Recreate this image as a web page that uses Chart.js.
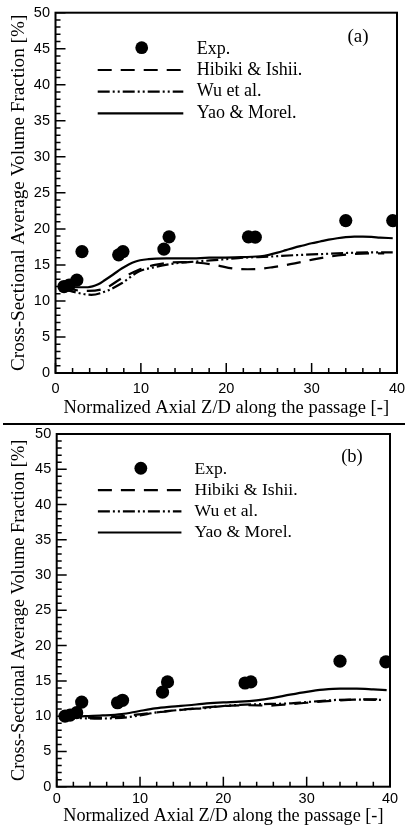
<!DOCTYPE html>
<html><head><meta charset="utf-8">
<script src="https://cdn.jsdelivr.net/npm/chart.js@4.4.1/dist/chart.umd.min.js"></script>
<style>
html,body{margin:0;padding:0;background:#fff;width:405px;height:831px;overflow:hidden;}
#wa{position:absolute;left:0;top:0;width:405px;height:422px;}
#wb{position:absolute;left:0;top:425px;width:405px;height:406px;}
#sep{position:absolute;left:3px;top:423px;width:402px;height:2px;background:#000;}
</style></head><body>
<div id="wa"><canvas id="ca"></canvas></div>
<div id="sep"></div>
<div id="wb"><canvas id="cb"></canvas></div>
<script>
// ---- labels ----
const seriesNames = ['Exp.', 'Hibiki & Ishii.', 'Wu et al.', 'Yao & Morel.'];
const xTitle = 'Normalized Axial Z/D along the passage [-]';
const yTitle = 'Cross-Sectional Average Volume Fraction [%]';
const xTickValues = [0, 10, 20, 30, 40];
const yTickValues = [0, 5, 10, 15, 20, 25, 30, 35, 40, 45, 50];

// ---- panel (a) ----
const expZ_a = [1.0, 1.6, 2.5, 3.1, 7.4, 7.9, 12.7, 13.3, 22.6, 23.4, 34.0, 39.5];
const expV_a = [12.0, 12.2, 12.9, 16.85, 16.4, 16.85, 17.2, 18.9, 18.9, 18.85, 21.15, 21.15];
const hibZ_a = [1, 2, 3, 3.8, 5.8, 7.75, 9.7, 11.65, 14.8, 16.7, 18.7, 20.8, 22.5, 24, 25.5, 27.5, 30.4, 33.7, 36.8, 38.5];
const hibV_a = [11.8, 11.6, 11.4, 11.4, 11.75, 13.15, 14.3, 15.0, 15.4, 15.3, 15.0, 14.5, 14.4, 14.45, 14.7, 15.1, 15.8, 16.4, 16.6, 16.6];
const wuZ_a = [1, 2, 3.1, 4.2, 5.8, 7.75, 9.7, 11.65, 13.6, 16.3, 19.5, 22, 25, 28, 31, 34, 37, 39.5];
const wuV_a = [11.6, 11.3, 11.0, 10.85, 11.3, 12.45, 14.05, 14.7, 15.15, 15.45, 15.75, 16.0, 16.15, 16.35, 16.5, 16.65, 16.75, 16.75];
const yaoZ_a = [1, 2.3, 3.8, 5, 5.8, 6.8, 7.75, 9.3, 10.9, 13, 15.5, 18, 21, 24, 25, 26, 27, 28, 29, 30, 31, 32, 33, 34, 35, 36, 37, 38, 39.5];
const yaoV_a = [12.0, 11.9, 11.9, 12.3, 12.9, 13.7, 14.5, 15.45, 15.8, 15.9, 15.9, 16.0, 16.05, 16.2, 16.4, 16.7, 17.05, 17.4, 17.7, 18.0, 18.25, 18.5, 18.7, 18.85, 18.92, 18.92, 18.88, 18.8, 18.7];

// ---- panel (b) ----
const expZ_b = [1.0, 1.6, 2.4, 3.0, 7.3, 7.9, 12.7, 13.3, 22.6, 23.3, 34.0, 39.5];
const expV_b = [10.0, 10.15, 10.5, 12.0, 11.9, 12.25, 13.4, 14.85, 14.7, 14.85, 17.8, 17.7];
const hibZ_b = [1, 2, 3.5, 5, 7, 9, 11, 13, 15, 17, 19, 21, 23, 25.6, 28, 30, 32, 35, 38, 39];
const hibV_b = [10.0, 9.9, 9.8, 9.75, 9.9, 10.15, 10.4, 10.65, 10.9, 11.15, 11.35, 11.5, 11.55, 11.5, 11.7, 11.9, 12.1, 12.3, 12.4, 12.4];
const wuZ_b = [1, 2, 3.5, 5, 6.5, 8.5, 10, 11.8, 14, 16, 17.8, 19.6, 22, 24.5, 27.6, 30, 33.6, 36, 39.2];
const wuV_b = [10.0, 9.8, 9.7, 9.65, 9.7, 9.85, 10.1, 10.5, 10.8, 11.0, 11.15, 11.4, 11.6, 11.7, 11.8, 12.0, 12.3, 12.35, 12.3];
const yaoZ_b = [1, 2, 3.4, 5.5, 7.8, 9.8, 11.8, 13.8, 15.8, 18, 20, 22, 24, 26, 28, 30, 32, 34, 36, 38, 39.6];
const yaoV_b = [10.0, 9.95, 10.0, 10.1, 10.3, 10.7, 11.1, 11.35, 11.55, 11.8, 11.95, 12.05, 12.25, 12.6, 13.05, 13.45, 13.75, 13.9, 13.9, 13.8, 13.7];

const toPts = (zs, vs) => zs.map((z, i) => ({x: z, y: vs[i]}));

const framePlugin = {
  id: 'frameTicks',
  afterDatasetsDraw(chart) {
    const {ctx, chartArea: a, scales: {x, y}} = chart;
    ctx.save();
    ctx.strokeStyle = '#000';
    ctx.lineWidth = 1.5;
    ctx.beginPath();
    for (let v = 0; v <= 50; v += 1) {
      const py = y.getPixelForValue(v);
      const len = v % 5 === 0 ? 10 : 5;
      ctx.moveTo(a.left, py); ctx.lineTo(a.left + len, py);
    }
    for (let v = 0; v <= 40; v += 2) {
      const px = x.getPixelForValue(v);
      const len = v % 10 === 0 ? 10 : 5;
      ctx.moveTo(px, a.bottom); ctx.lineTo(px, a.bottom - len);
    }
    ctx.stroke();
    ctx.lineWidth = 2;
    ctx.strokeRect(a.left, a.top, a.right - a.left, a.bottom - a.top);
    ctx.restore();
  }
};

const legendPlugin = {
  id: 'innerLegend',
  afterDraw(chart) {
    const o = chart.options.plugins.innerLegend;
    const {ctx, chartArea: a} = chart;
    const k = (a.right - a.left) / 341.5;
    const ky = (a.bottom - a.top) / 360.3;
    ctx.save();
    ctx.fillStyle = '#000';
    ctx.strokeStyle = '#000';
    const rows = [36.3, 57.3, 79, 100.6];
    const ds = chart.data.datasets;
    ctx.font = (18 * k).toFixed(1) + 'px "Liberation Serif"';
    ctx.textBaseline = 'middle';
    ctx.textAlign = 'left';
    ds.forEach((d, i) => {
      const cy = a.top + rows[i] * ky;
      if (i === 0) {
        ctx.beginPath();
        ctx.arc(a.left + 86.2 * k, a.top + 35 * ky, 6.4, 0, Math.PI * 2);
        ctx.fill();
      } else {
        ctx.lineWidth = 2.2;
        ctx.setLineDash(d.borderDash || []);
        ctx.beginPath();
        ctx.moveTo(a.left + 42.2 * k, cy);
        ctx.lineTo(a.left + 127.8 * k, cy);
        ctx.stroke();
        ctx.setLineDash([]);
      }
      ctx.fillText(d.label, a.left + 141.2 * k, cy);
    });
    ctx.font = (19 * k).toFixed(1) + 'px "Liberation Serif"';
    ctx.textAlign = 'center';
    ctx.fillText(o.panel, a.left + 302.5 * k, a.top + 24 * ky);
    ctx.restore();
  }
};

function build(id, p) {
  const lineDs = (label, pts, dash) => ({
    label, data: pts, showLine: true, borderColor: '#000', borderWidth: 2.2,
    borderDash: dash, pointRadius: 0, pointHoverRadius: 0,
    cubicInterpolationMode: 'monotone', fill: false
  });
  return new Chart(document.getElementById(id), {
    type: 'scatter',
    data: {
      datasets: [
        {label: seriesNames[0], data: toPts(p.expZ, p.expV), showLine: false,
         pointRadius: 6.6, pointBackgroundColor: '#000', pointBorderColor: '#000', pointBorderWidth: 0},
        lineDs(seriesNames[1], toPts(p.hibZ, p.hibV), [14, 9]),
        lineDs(seriesNames[2], toPts(p.wuZ, p.wuV), [12, 3, 2, 3, 2, 3]),
        lineDs(seriesNames[3], toPts(p.yaoZ, p.yaoV), [])
      ]
    },
    options: {
      responsive: true, maintainAspectRatio: false, animation: false,
      layout: {padding: {left: 0, right: p.padR, top: p.padT, bottom: 0}},
      plugins: {legend: {display: false}, tooltip: {enabled: false}, innerLegend: {panel: p.panel}},
      scales: {
        x: {
          type: 'linear', min: 0, max: 40,
          afterBuildTicks: s => { s.ticks = xTickValues.map(v => ({value: v})); },
          ticks: {font: {family: 'Liberation Sans', size: p.tickFont}, color: '#000', padding: p.xTickPad, maxRotation: 0, autoSkip: false},
          grid: {display: false, drawTicks: false}, border: {display: false},
          title: {display: true, text: xTitle, color: '#000',
                  font: {family: 'Liberation Serif', size: p.xTitleFont}, padding: {top: 0, bottom: p.xTitlePad}},
          afterFit: s => { s.height = p.xH; s.paddingLeft = 0; s.paddingRight = 0; }
        },
        y: {
          type: 'linear', min: 0, max: 50,
          afterBuildTicks: s => { s.ticks = yTickValues.map(v => ({value: v})); },
          ticks: {font: {family: 'Liberation Sans', size: p.tickFont}, color: '#000', padding: 5.5, autoSkip: false},
          grid: {display: false, drawTicks: false}, border: {display: false},
          title: {display: true, text: yTitle, color: '#000',
                  font: {family: 'Liberation Serif', size: p.yTitleFont}, padding: {top: p.yTitlePad, bottom: 0}},
          afterFit: s => { s.width = p.yW; s.paddingTop = 0; s.paddingBottom = 0; }
        }
      }
    },
    plugins: [framePlugin, legendPlugin]
  });
}

build('ca', {expZ: expZ_a, expV: expV_a, hibZ: hibZ_a, hibV: hibV_a, wuZ: wuZ_a, wuV: wuV_a, yaoZ: yaoZ_a, yaoV: yaoV_a,
  panel: '(a)', padR: 8, padT: 12.7, xH: 49, yW: 55.5, tickFont: 14.5, xTitleFont: 18.5, yTitleFont: 19.2,
  xTickPad: 7, xTitlePad: 2.9, yTitlePad: 7.5});
build('cb', {expZ: expZ_b, expV: expV_b, hibZ: hibZ_b, hibV: hibV_b, wuZ: wuZ_b, wuV: wuV_b, yaoZ: yaoZ_b, yaoV: yaoV_b,
  panel: '(b)', padR: 15, padT: 9, xH: 44.3, yW: 56.7, tickFont: 14.5, xTitleFont: 18.2, yTitleFont: 18.4,
  xTickPad: 4, xTitlePad: 3.5, yTitlePad: 8});
</script>
</body></html>
